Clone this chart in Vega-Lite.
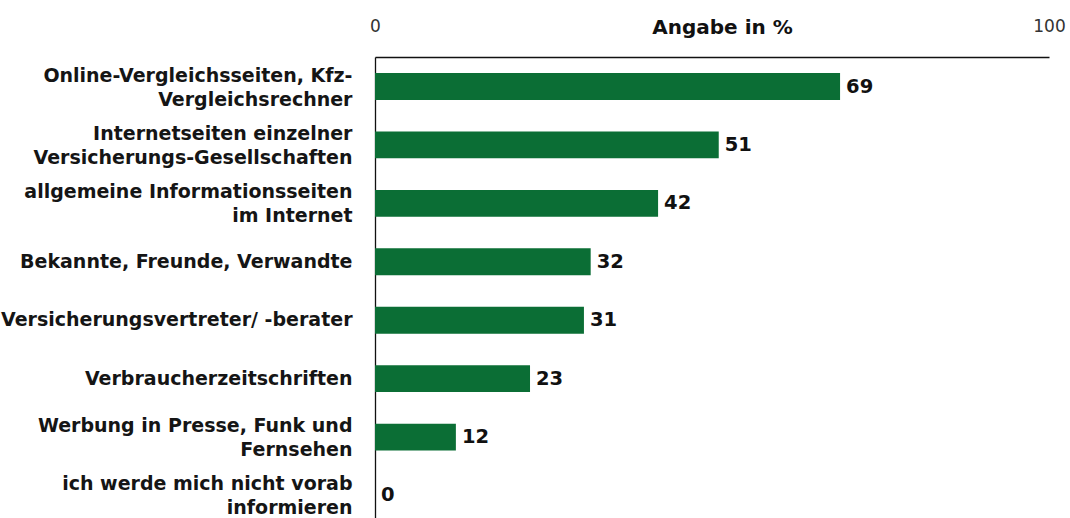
{
  "$schema": "https://vega.github.io/schema/vega-lite/v6.json",
  "width": 674,
  "height": 468,
  "autosize": {"type": "none"},
  "padding": {"left": 375, "top": 57, "right": 21, "bottom": 0},
  "background": "white",
  "config": {"view": {"stroke": null}, "font": "DejaVu Sans"},
  "data": {"values": [
    {"cat": "Online-Vergleichsseiten, Kfz-|Vergleichsrechner", "v": 69},
    {"cat": "Internetseiten einzelner|Versicherungs-Gesellschaften", "v": 51},
    {"cat": "allgemeine Informationsseiten|im Internet", "v": 42},
    {"cat": "Bekannte, Freunde, Verwandte", "v": 32},
    {"cat": "Versicherungsvertreter/ -berater", "v": 31},
    {"cat": "Verbraucherzeitschriften", "v": 23},
    {"cat": "Werbung in Presse, Funk und|Fernsehen", "v": 12},
    {"cat": "ich werde mich nicht vorab|informieren", "v": 0}
  ]},
  "encoding": {
    "y": {"field": "cat", "type": "nominal", "sort": null,
      "scale": {"paddingInner": 0.54, "paddingOuter": 0.275},
      "axis": {"title": null, "labelExpr": "split(datum.label, '|')", "labelFont": "DejaVu Sans", "labelFontSize": 19, "labelFontWeight": "bold", "labelColor": "#151515", "labelPadding": 23, "ticks": false, "domainColor": "#111", "domainWidth": 1.3, "labelLineHeight": 24,
        "labelOffset": {"condition": {"test": "indexof(datum.value, '|') >= 0", "value": -11}, "value": 0},
        "labelLimit": 400}},
    "x": {"field": "v", "type": "quantitative",
      "scale": {"domain": [0, 100], "nice": false},
      "axis": {"orient": "top", "title": "Angabe in %", "titleFont": "DejaVu Sans", "titleFontSize": 20, "titleFontWeight": "bold", "titleColor": "#111", "titleX": 347, "titleY": -30, "titleAnchor": "middle", "titleAlign": "center", "titleBaseline": "middle", "values": [0, 100], "labelFont": "DejaVu Sans", "labelFontSize": 17, "labelColor": "#333", "labelPadding": 22, "ticks": false, "grid": false, "domainColor": "#111", "domainWidth": 1.3, "labelFlush": false}}
  },
  "layer": [
    {"mark": {"type": "bar", "color": "#0b6e35"}},
    {"mark": {"type": "text", "align": "left", "dx": 6, "fontSize": 19.5, "fontWeight": "bold", "font": "DejaVu Sans", "color": "#111", "baseline": "middle"},
     "encoding": {"text": {"field": "v", "type": "quantitative"}}}
  ]
}
